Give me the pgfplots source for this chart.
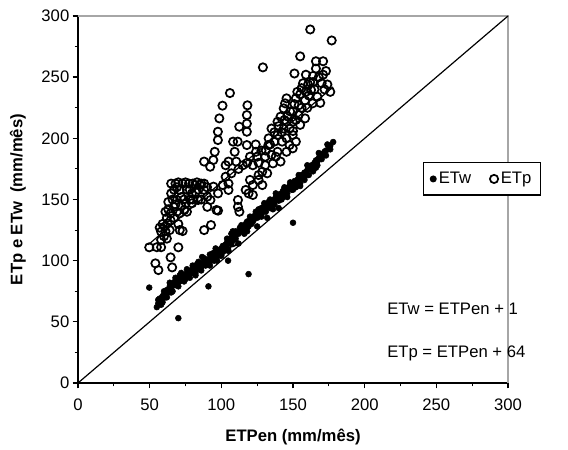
\documentclass[border=0pt]{standalone}
\usepackage{pgfplots}
\pgfplotsset{compat=1.18}
\usepackage{fontspec}
\setmainfont{Liberation Sans}
\newcommand{\fs}{\fontsize{12.5}{15}\selectfont}
\begin{document}
\begin{tikzpicture}
\path[use as bounding box] (-58.5pt,-50.25pt) rectangle (367.5pt,287.25pt);
\begin{axis}[
  at={(0,0)}, anchor=south west,
  width=322.5pt, height=275.25pt, scale only axis,
  xmin=0, xmax=300, ymin=0, ymax=300,
  clip=false,
  xtick={0,50,...,300}, ytick={0,50,...,300},
  minor tick num=1,
  axis lines=left,
  axis line style={-, black, line width=1.3pt},
  tick align=outside,
  major tick style={black, line width=1pt},
  minor tick style={black, line width=0.8pt},
  major tick length=4pt, minor tick length=2.5pt,
  /pgf/number format/assume math mode=true,
  tick label style={font=\fs},
  xticklabel style={yshift=-4.5pt},
  yticklabel style={xshift=1pt},
  xlabel={\bfseries ETPen (mm/mês)},
  ylabel={\bfseries ETp e ETw\ \ (mm/mês)},
  label style={font=\fs},
  x label style={at={(axis description cs:0.5,-0.147)}, anchor=center},
  y label style={at={(axis description cs:-0.14,0.5)}, anchor=center},
  legend style={at={(axis description cs:0.94,0.556)}, anchor=center,
    legend columns=2, draw=black, line width=0.8pt, font=\fs, fill=white,
    inner xsep=5pt, inner ysep=5pt,
    /tikz/every even column/.append style={column sep=12pt}},
  legend cell align=left,
]
\draw[gray!70, line width=1pt] (rel axis cs:0,1) -- (rel axis cs:1,1) -- (rel axis cs:1,0);
\addplot[black, line width=0.9pt, forget plot] coordinates {(0,0) (300,300)};
\addplot[black, line width=0.9pt, forget plot] coordinates {(49,113) (178,242)};

% ETw
\addplot[only marks, mark=*, mark size=2.2pt, black] coordinates {
(49.7,78) (70,53) (91,79) (119,89) (150,131) (86.6,103) (104.7,100)
(55,62) (56,65) (57,69) (58,67) (59,71) (60,72) (61,70) (62,73) (63,76) (64,79)
(65,77) (66,80) (67,82) (68,84) (69,81) (70,85) (71,83) (72,87) (73,86) (74,88)
(75,85) (76,90) (77,92) (78,89) (79,91) (80,93) (81,92) (82,90) (83,94) (84,96)
(85,93) (86,95) (87,97) (88,99) (89,96) (90,98) (91,101) (92,99) (93,103) (94,102)
(95,104) (96,107) (97,105) (98,108) (99,106) (100,110) (101,109) (102,112) (103,113)
(104,111) (105,116) (106,118) (107,122) (108,120) (109,117) (110,121) (111,123)
(112,122) (113,124) (114,126) (115,128) (116,125) (117,130) (118,127) (119,131)
(120,133) (121,130) (122,136) (123,134) (124,137) (125,139) (126,136) (127,140)
(128,143) (129,141) (130,145) (131,143) (132,146) (133,148) (134,145) (135,149)
(136,147) (137,150) (138,152) (139,151) (140,154) (141,152) (142,155) (143,157)
(144,156) (145,159) (146,158) (147,160) (148,162) (149,160) (150,163) (151,165)
(152,164) (153,166) (154,168) (155,167) (156,170) (157,169) (158,172) (159,171)
(160,174) (161,176) (162,175) (163,178) (164,177) (165,180) (166,182) (167,181)
(168,184) (169,185) (170,187) (171,186) (172,189) (173,190) (175,192) (176,194)
(178,197) (97,100) (105,108) (112,114) (125,128) (132,135) (140,143)
(58,64) (66,75) (74,83) (82,88) (100,104) (118,124) (128,138) (136,142) (146,152) (155,161)
(56,68) (59,66) (62,76) (65,74) (68,80) (71,88) (74,84) (77,88) (80,90) (83,97)
(86,92) (89,100) (92,96) (95,100) (98,104) (101,112) (104,115) (107,114) (110,118)
(113,127) (116,122) (119,128) (122,132) (125,135) (128,136) (131,140) (134,150)
(137,146) (140,149) (143,152) (146,155) (149,158) (152,160) (155,163) (158,166)
(161,170) (164,173) (167,178) (170,183) (173,186) (176,191) (62,70) (70,79) (78,86)
(86,98) (94,106) (102,108) (110,124) (118,132) (126,142) (134,143) (142,150) (150,158)
(158,168) (166,176)
(60,75) (64,82) (68,86) (72,90) (76,93) (80,96) (84,99) (88,102) (92,105) (96,110)
(104,118) (108,124) (114,129) (120,136) (124,140) (130,147) (138,155) (144,160)
(148,164) (154,170) (160,178) (168,188) (174,195)
};
\addlegendentry{ETw}

% ETp
\addplot[only marks, mark=o, mark size=3.1pt, black, mark options={line width=1.3pt}] coordinates {
(49.7,110.9) (55,111) (58,111) (58,117) (58,123.7) (60.4,127.8) (64.6,133) (62.5,130.5)
(64.6,138.7) (66.8,144) (69,149.6) (71,157.8) (73,163) (77.4,163) (81.7,161.8) (86,163)
(88,157.8) (79.5,155) (75.2,146.9) (71,138.7) (74.2,141.4) (69,140) (79.5,146.9)
(83.8,149.6) (90.2,144) (92.4,149.6) (97.7,155) (94.5,160.5) (101,161.8) (105,163)
(105,157.8) (103,168.6) (107,171.4) (96.6,141.4) (90.2,152.3) (71,125) (73,124.2)
(70,110.9) (54,97.8) (56.1,92.3) (64.6,102.7) (65.7,94.5) (88,125) (92.8,129.1)
(97.7,140.9) (111.6,149.6) (111.6,144) (112.6,140) (117,157.8) (119,155) (122,161.8)
(120,166) (126,166) (128.6,161.8) (126,170) (132,171.4) (122,153.7)
(65,163) (68,163) (70,164) (75,164) (80,163) (83,164) (85,162)
(62,135) (66,150) (68,146) (72,152) (76,158) (78,150) (63,142) (60,120) (57,127) (61,124)
(100,108) (104,112) (108,115) (95,103)
(162,289) (155,267) (166,263) (171,263) (129,258) (151,253) (159,252) (164,251) (171,252)
(160.5,244) (156,241) (162.6,239.5) (167,234) (169,229) (163.7,228.6) (158.4,231) (154,227)
(152,232.7) (145.5,232.7) (144.5,228.6) (143.5,224.5) (141.3,217.7) (139.2,213.6)
(145.5,213.6) (149.8,213.6) (154,219) (158.4,216.3) (155,211) (147.6,208) (143.5,208)
(135,208) (139.2,202.7) (145.5,200) (149.8,202.7) (152,197.3) (147.6,194.5) (142.4,197.3)
(137,197.3) (132.8,194.5) (139.2,189) (145.5,189) (149.8,191.8) (135,186.4) (130.6,185)
(141.3,181) (136,179.5) (130.6,178) (128.5,172.7) (124.2,189) (117.8,194.5) (117.8,205.4)
(117.8,212) (117.8,219) (118.2,227) (112.5,209.5) (111.4,197.3) (108.2,197.3) (109.3,189)
(110.4,181) (105,181) (103,178) (106,237) (100.8,226.7) (98.6,216.3) (97.6,205.4)
(97.6,198.6) (95.4,189) (94.4,182.3) (92.2,176.8) (88,181)
(177,280) (174,244) (176,238) (172,240)
(125,185) (128,190) (133,200) (137,205) (140,210) (146,218) (150,222) (155,236) (160,225)
(165,240) (170,245) (162,246)
(59,130) (61,140) (63,148) (65,155) (67,158) (69,160) (72,145) (74,150) (76,140) (78,158)
(80,150) (82,156) (84,158) (86,150) (88,163) (90,160) (67,135) (70,130) (64,125) (62,118)
(112,175) (115,178) (118,180) (120,185) (122,178) (124,195) (126,180) (131,190) (134,195)
(138,185) (142,205) (144,215) (148,222) (151,228) (153,238) (157,245) (161,235) (164,246)
(168,250) (173,255) (166,257) (150,206) (152,215) (156,225) (159,238)
};
\addlegendentry{ETp}

\node[anchor=west, font=\fs, inner sep=0pt] at (axis cs:215.6,60.5) {ETw = ETPen + 1};
\node[anchor=west, font=\fs, inner sep=0pt] at (axis cs:215.6,24.5) {ETp = ETPen + 64};
\end{axis}
\end{tikzpicture}
\end{document}
